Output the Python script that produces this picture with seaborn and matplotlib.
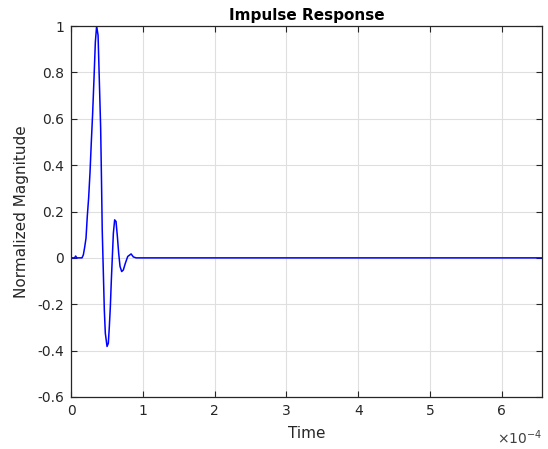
import matplotlib
matplotlib.use("Agg")
import matplotlib.pyplot as plt
import seaborn as sns
import pandas as pd

# Impulse response (time in microseconds, normalized magnitude)
t_us = [0, 5.0, 6.5, 8.0, 15.3, 17.2, 19.0, 20.9, 22.7, 24.6, 26.5, 28.3, 30.1,
        32.0, 33.9, 35.7, 37.7, 39.5, 41.3, 42.5, 43.5, 44.6, 46.4, 47.8, 50.2,
        52.0, 53.4, 54.8, 56.2, 57.6, 59.0, 60.8, 62.7, 64.6, 66.4, 68.3, 70.6,
        72.9, 75.7, 79.0, 83.7, 86.9, 90.7, 656.0]
magnitude = [0, 0, 0.008, 0, 0, 0.013, 0.045, 0.085, 0.18, 0.26, 0.37, 0.50, 0.62,
             0.77, 0.93, 1.0, 0.96, 0.76, 0.56, 0.33, 0.12, -0.01, -0.224, -0.325, -0.382,
             -0.368, -0.296, -0.21, -0.095, 0.006, 0.106, 0.164, 0.157, 0.092, 0.02, -0.037, -0.059,
             -0.052, -0.023, 0.006, 0.017, 0.004, 0, 0]

x_ticks = [0, 1e-4, 2e-4, 3e-4, 4e-4, 5e-4, 6e-4]
x_tick_labels = ["0", "1", "2", "3", "4", "5", "6"]
y_ticks = [-0.6, -0.4, -0.2, 0, 0.2, 0.4, 0.6, 0.8, 1]
y_tick_labels = ["-0.6", "-0.4", "-0.2", "0", "0.2", "0.4", "0.6", "0.8", "1"]

df = pd.DataFrame({"time": [t * 1e-6 for t in t_us], "mag": magnitude})

sns.set_theme(style="whitegrid")
plt.rcParams["font.family"] = ["DejaVu Sans"]
plt.rcParams["axes.unicode_minus"] = False

fig = plt.figure(figsize=(5.48, 4.49), dpi=100)
ax = fig.add_axes([71 / 548, 1 - 397 / 449, (542 - 71) / 548, (397 - 26) / 449])

sns.lineplot(data=df, x="time", y="mag", color="#0000ff", linewidth=1.1, ax=ax)

ax.set_xlim(0, 6.56e-4)
ax.set_ylim(-0.6, 1)
ax.set_xticks(x_ticks)
ax.set_xticklabels(x_tick_labels)
ax.set_yticks(y_ticks)
ax.set_yticklabels(y_tick_labels)

ax.set_facecolor("white")
ax.grid(True, color="#dfdfdf", linewidth=0.8)
for side in ax.spines.values():
    side.set_visible(True)
    side.set_color("#262626")
    side.set_linewidth(0.9)

ax.tick_params(axis="both", direction="in", length=4, width=0.8, colors="#262626",
               labelsize=10, top=True, right=True, bottom=True, left=True, pad=5)
for lab in ax.get_xticklabels() + ax.get_yticklabels():
    lab.set_color("#262626")

ax.set_title("Impulse Response", fontsize=11, fontweight="bold", color="black", pad=4)
ax.set_xlabel("Time", fontsize=11, color="#262626", labelpad=6)
ax.set_ylabel("Normalized Magnitude", fontsize=11, color="#262626", labelpad=6)
ax.text(1.0, -0.11, r"$\times$10$^{-4}$", transform=ax.transAxes, ha="right", va="center",
        fontsize=10, color="#404040")

fig.savefig("out.png", dpi=100, facecolor="white")
